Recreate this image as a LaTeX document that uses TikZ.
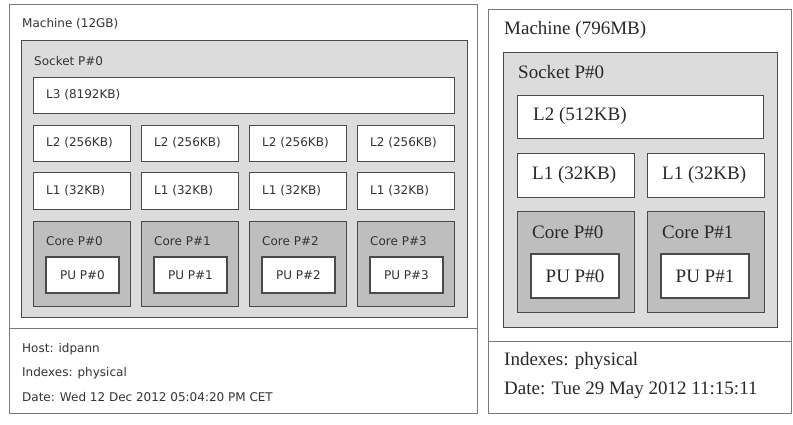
\documentclass[tikz,border=0pt]{standalone}
\usepackage{fontspec}
\newfontfamily\lfont{DejaVu Sans}
\newfontfamily\rfont{Liberation Serif}
\definecolor{outerc}{HTML}{7A7A7A}
\definecolor{edgec}{HTML}{4A4A4A}
\definecolor{sockc}{HTML}{DCDCDC}
\definecolor{corec}{HTML}{BEBEBE}
\definecolor{txtc}{HTML}{333333}
\begin{document}
\begin{tikzpicture}[x=1pt,y=-1pt,
  outerbox/.style={draw=outerc,line width=1pt,fill=white,inner sep=0pt,anchor=north west},
  sockbox/.style={draw=edgec,line width=1.2pt,fill=sockc,inner sep=0pt,anchor=north west},
  cachebox/.style={draw=edgec,line width=1.2pt,fill=white,inner sep=0pt,anchor=north west},
  corebox/.style={draw=edgec,line width=1.2pt,fill=corec,inner sep=0pt,anchor=north west},
  pubox/.style={draw=edgec,line width=1.2pt,fill=white,inner sep=0pt,text=txtc},
  ltxt/.style={anchor=west,inner sep=0pt,text=txtc,font=\lfont\fontsize{12}{14}\selectfont},
  rtxt/.style={anchor=west,inner sep=0pt,text=txtc!80!black,font=\rfont\fontsize{19}{22}\selectfont}]
\useasboundingbox (0,0) rectangle (793,425);
% ---------------- Left panel ----------------
\node[outerbox,minimum width=468pt,minimum height=409pt] (lm) at (9,4) {};
\coordinate (lda) at (9,328);
\coordinate (ldb) at (477,328);
\draw[outerc,line width=1pt] (lda) -- (ldb);
\node[ltxt] (lmt) at (22,24) {Machine (12GB)};
\node[sockbox,minimum width=446pt,minimum height=277pt] (ls) at (21,40) {};
\node[ltxt] (lst) at (34,61) {Socket P\#0};
\node[cachebox,minimum width=421pt,minimum height=36pt] (l3) at (33,77) {};
\node[ltxt] (l3t) at (46,95) {L3 (8192KB)};
\foreach \i/\x in {0/33,1/141,2/249,3/357}{
  \node[cachebox,minimum width=97pt,minimum height=36pt] (l2\i) at (\x,125) {};
  \node[ltxt] (l2t\i) at (\x+13,143) {L2 (256KB)};
  \node[cachebox,minimum width=97pt,minimum height=37pt] (l1\i) at (\x,172) {};
  \node[ltxt] (l1t\i) at (\x+13,190.5) {L1 (32KB)};
  \node[corebox,minimum width=97pt,minimum height=85pt] (lc\i) at (\x,221) {};
  \node[ltxt] (lct\i) at (\x+13,241) {Core P\#\i};
  \node[pubox,minimum width=73pt,minimum height=36pt,font=\lfont\fontsize{12}{14}\selectfont] (lp\i) at (\x+49.5,275) {PU P\#\i};
}
\node[ltxt] (lh) at (22,349) {Host: idpann};
\node[ltxt] (li) at (22,373) {Indexes: physical};
\node[ltxt] (ld) at (22,397) {Date: Wed 12 Dec 2012 05:04:20 PM CET};
% ---------------- Right panel ----------------
\node[outerbox,minimum width=303pt,minimum height=404pt] (rm) at (488,9) {};
\coordinate (rda) at (488,341);
\coordinate (rdb) at (791,341);
\draw[outerc,line width=1pt] (rda) -- (rdb);
\node[rtxt] (rmt) at (504,30) {Machine (796MB)};
\node[sockbox,minimum width=274pt,minimum height=275pt] (rs) at (503,52) {};
\node[rtxt] (rst) at (518,72) {Socket P\#0};
\node[cachebox,minimum width=246pt,minimum height=43pt] (r2) at (517,95) {};
\node[rtxt] (r2t) at (533,116) {L2 (512KB)};
\foreach \i/\x in {0/517,1/647}{
  \node[cachebox,minimum width=117pt,minimum height=44pt] (r1\i) at (\x,153) {};
  \node[rtxt] (r1t\i) at (\x+15,175) {L1 (32KB)};
  \node[corebox,minimum width=117pt,minimum height=101pt] (rc\i) at (\x,211) {};
  \node[rtxt] (rct\i) at (\x+15,232) {Core P\#\i};
  \node[pubox,minimum width=88pt,minimum height=44pt,text=txtc!80!black,font=\rfont\fontsize{19}{22}\selectfont] (rp\i) at (\x+58,276) {PU P\#\i};
}
\node[rtxt] (ri) at (504,361) {Indexes: physical};
\node[rtxt] (rd) at (504,390) {Date: Tue 29 May 2012 11:15:11};
\end{tikzpicture}
\end{document}
